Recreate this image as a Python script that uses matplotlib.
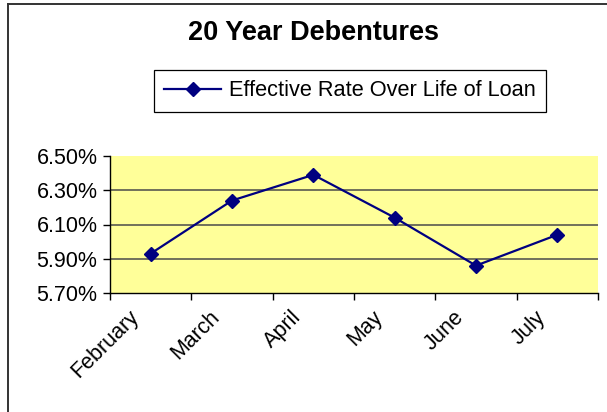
import matplotlib
matplotlib.use('Agg')
import matplotlib.pyplot as plt
from matplotlib.lines import Line2D
from matplotlib.transforms import ScaledTranslation, blended_transform_factory
from matplotlib.ticker import FuncFormatter, FixedLocator, NullFormatter

plt.rcParams['font.family'] = ['Liberation Sans', 'DejaVu Sans']

# data
months = ['February', 'March', 'April', 'May', 'June', 'July']
rates = [5.93, 6.24, 6.39, 6.14, 5.86, 6.04]
y_ticks = [5.70, 5.90, 6.10, 6.30, 6.50]
grid_levels = [5.90, 6.10, 6.30]

W, H = 607, 412
fig = plt.figure(figsize=(W / 100, H / 100), dpi=100)

# outer chart frame: only the left and top edges are inside the image
fx, fy = 7.5 / W, 1 - 3.5 / H
fig.add_artist(Line2D([fx, fx], [0, fy], transform=fig.transFigure,
                      color='#333333', linewidth=1.4))
fig.add_artist(Line2D([fx, 1], [fy, fy], transform=fig.transFigure,
                      color='#333333', linewidth=1.4))

ax = fig.add_axes([110 / W, 1 - 293 / H, (598 - 110) / W, (293 - 156) / H])
ax.set_facecolor('#ffff99')

x = list(range(len(months)))
line, = ax.plot(x, rates, color='#000080', linewidth=1.6, marker='D',
                markersize=7.5, markerfacecolor='#000080',
                markeredgecolor='#000080', label='Effective Rate Over Life of Loan',
                zorder=3)

for lvl in grid_levels:
    ax.axhline(lvl, color='#4a4a4a', linewidth=1.1, zorder=1)

ax.set_xlim(-0.5, len(months) - 0.5)
ax.set_ylim(y_ticks[0], y_ticks[-1])
ax.yaxis.set_major_locator(FixedLocator(y_ticks))
ax.yaxis.set_major_formatter(FuncFormatter(lambda v, p: f'{v:.2f}%'))

# category boundaries get tick marks, labels sit in between
ax.xaxis.set_major_locator(FixedLocator([i - 0.5 for i in range(len(months) + 1)]))
ax.xaxis.set_major_formatter(NullFormatter())
ax.tick_params(axis='x', which='major', direction='out', length=5, width=1)
ax.tick_params(axis='y', direction='out', length=5, width=1, labelsize=15.5, pad=4)

# rotated month labels, upper-right end a bit left of and below each category
lab_tr = blended_transform_factory(ax.transData, ax.transAxes) + \
    ScaledTranslation(-0.15, -0.21, fig.dpi_scale_trans)
for xi, m in zip(x, months):
    ax.text(xi, 0, m, transform=lab_tr, rotation=45, ha='right', va='center',
            rotation_mode='anchor', fontsize=15.5)

for side in ['top', 'right']:
    ax.spines[side].set_visible(False)
for side in ['left', 'bottom']:
    ax.spines[side].set_color('black')
    ax.spines[side].set_linewidth(1)

fig.text(0.517, 1 - 33 / H, '20 Year Debentures', ha='center', va='center',
         fontsize=19.5, fontweight='bold')

leg = fig.legend(handles=[line], loc='center', bbox_to_anchor=(350 / W, 1 - 91 / H),
                 fontsize=15.7, frameon=True, fancybox=False, framealpha=1,
                 edgecolor='black', handlelength=2.6, handletextpad=0.35,
                 borderpad=0.5)
leg.get_frame().set_linewidth(0.9)

fig.savefig('out.png', dpi=100)
